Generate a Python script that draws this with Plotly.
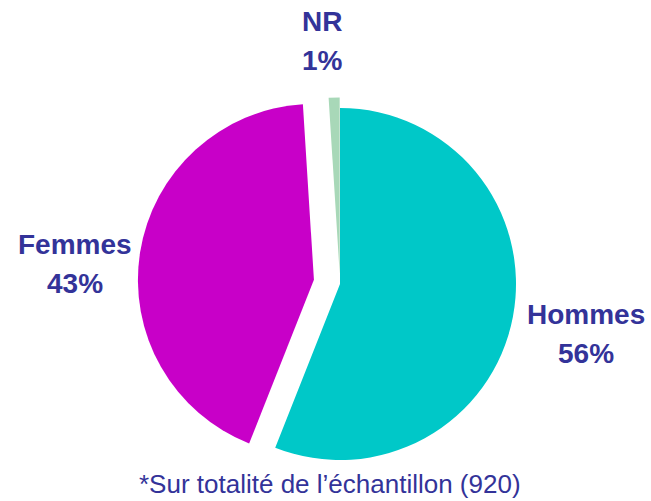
import plotly.graph_objects as go

categories = ["Hommes", "Femmes", "NR"]
values = [56, 43, 1]
colors = ["#00C8C8", "#C800C8", "#A8D8B8"]
pulls = [0.0, 0.15, 0.06]
footnote = "*Sur totalité de l’échantillon (920)"

W, H = 651, 501
cx, cy, R = 340, 284, 176
half = R * (1 + max(pulls))

fig = go.Figure(go.Pie(
    labels=categories, values=values, sort=False, direction="clockwise",
    rotation=0, pull=pulls, textinfo="none", hoverinfo="label+percent",
    marker=dict(colors=colors, line=dict(width=0)),
    domain=dict(x=[(cx - half) / W, (cx + half) / W],
                y=[1 - (cy + half) / H, 1 - (cy - half) / H]),
    showlegend=False,
))

label_pos = {"Hommes": (586, 314), "Femmes": (75, 244), "NR": (322, 21)}
font = dict(family="Liberation Sans, Arial", size=28, color="#333399")
annos = []
for cat, v in zip(categories, values):
    x, y = label_pos[cat]
    annos.append(dict(x=x / W, y=1 - y / H, xref="paper", yref="paper",
                      text=f"<b>{cat}</b>", showarrow=False, font=font,
                      xanchor="center", yanchor="middle"))
    annos.append(dict(x=x / W, y=1 - (y + 39) / H, xref="paper", yref="paper",
                      text=f"<b>{v}%</b>", showarrow=False, font=font,
                      xanchor="center", yanchor="middle"))
annos.append(dict(x=330 / W, y=1 - 484 / H, xref="paper", yref="paper",
                  text=footnote, showarrow=False,
                  font=dict(family="Liberation Sans, Arial", size=26, color="#333399"),
                  xanchor="center", yanchor="middle"))

fig.update_layout(width=W, height=H, margin=dict(l=0, r=0, t=0, b=0),
                  paper_bgcolor="white", plot_bgcolor="white", annotations=annos)
fig.write_html("out.html", config={"displayModeBar": False},
               post_script="document.body.style.margin='0';document.body.style.overflow='hidden';")
